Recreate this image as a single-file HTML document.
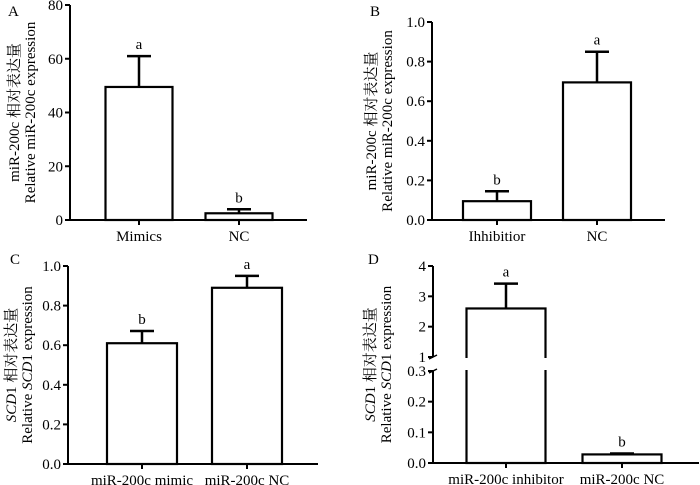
<!DOCTYPE html>
<html><head><meta charset="utf-8"><style>
body{margin:0;background:#fff}
svg{display:block;font-family:"Liberation Serif","Times New Roman","DejaVu Serif","Noto Serif CJK SC",serif}
text{font-family:"Liberation Serif","Times New Roman","DejaVu Serif","Noto Serif CJK SC",serif;fill:#000}
</style></head><body>
<svg id="c" width="700" height="485"></svg>
<script>
const catsA=["Mimics","NC"], valsA=[49.5,2.5], errA=[61,4], sigA=["a","b"], ticksA=[0,20,40,60,80];
const catsB=["Ihhibitior","NC"], valsB=[0.095,0.695], errB=[0.145,0.85], sigB=["b","a"], ticksB=[0,0.2,0.4,0.6,0.8,1.0];
const catsC=["miR-200c mimic","miR-200c NC"], valsC=[0.61,0.89], errC=[0.672,0.95], sigC=["b","a"], ticksC=[0,0.2,0.4,0.6,0.8,1.0];
const catsD=["miR-200c inhibitor","miR-200c NC"], valsD=[2.6,0.028], errD=[3.42,0.031], sigD=["a","b"], ticksDlow=[0,0.1,0.2,0.3], ticksDhigh=[1,2,3,4];
const S="http://www.w3.org/2000/svg", svg=document.getElementById('c');
const FF='"Liberation Serif","Times New Roman","DejaVu Serif","Noto Serif CJK SC",serif';
function el(t,a,txt){const e=document.createElementNS(S,t);for(const k in a)e.setAttribute(k,a[k]);if(t==='text')e.style.fontFamily=FF;if(txt!==undefined)e.textContent=txt;svg.appendChild(e);return e;}
function ln(x1,y1,x2,y2,w){return el('line',{x1,y1,x2,y2,stroke:'#000','stroke-width':w||2});}
function panel(p){
  const y=p.y;
  const ax=ln(p.ax,p.top,p.ax,p.bot);
  
  
  const xa=ln(p.ax,p.bot,p.axEnd,p.bot);
  
  
  p.ticks.forEach(t=>{const yy=y(t);ln(p.ax-5,yy,p.ax,yy);
    const tx=el('text',{x:p.ax-7,y:yy+5,'text-anchor':'end','font-size':15},p.fmt(t));
    
    });
  p.cats.forEach((c,i)=>{
    const cx=p.cx[i],w=p.bw,top=y(p.vals[i]),et=y(p.err[i]);
    ln(cx,p.bot,cx,p.bot+5);
    const r=el('rect',{x:cx-w/2,y:top,width:w,height:p.bot-top,fill:'#fff',stroke:'#000','stroke-width':2.2});
    
    
    ln(cx,top,cx,et,2.5);ln(cx-12,et,cx+12,et,2.5);
    const s=el('text',{x:cx,y:et-7,'text-anchor':'middle','font-size':15},p.sig[i]);
    
    
    const l=el('text',{x:cx,y:p.bot+21,'text-anchor':'middle','font-size':15},c);
    
    
  });
  const pl=el('text',{x:p.lx,y:p.ly,'font-size':15},p.label);
  
  
  const mid=(p.top+p.bot)/2;
  const t1=el('text',{x:0,y:0,'text-anchor':'middle','font-size':15,transform:`translate(${p.yl1},${mid}) rotate(-90)`});
  t1.innerHTML=p.t1;
  
  
  const t2=el('text',{x:0,y:0,'text-anchor':'middle','font-size':15,transform:`translate(${p.yl2},${mid}) rotate(-90)`});
  t2.innerHTML=p.t2;
  
  
}
const f0=t=>String(t), f1=t=>t.toFixed(1);
const lin=(d0,d1,r0,r1)=>v=>r0+(v-d0)/(d1-d0)*(r1-r0);
panel({label:'A',lx:8,ly:16,ax:70,axEnd:307,top:5,bot:220,y:lin(0,80,220,5),ticks:ticksA,fmt:f0,cats:catsA,vals:valsA,err:errA,sig:sigA,cx:[139,239],bw:67,yl1:19,yl2:35,
  t1:'miR-200c 相对表达量',t2:'Relative miR-200c expression'});
panel({label:'B',lx:370,ly:16,ax:432,axEnd:665,top:22,bot:220,y:lin(0,1,220,22),ticks:ticksB,fmt:f1,cats:catsB,vals:valsB,err:errB,sig:sigB,cx:[497,597],bw:68,yl1:376,yl2:392,
  t1:'miR-200c 相对表达量',t2:'Relative miR-200c expression'});
panel({label:'C',lx:10,ly:264,ax:68,axEnd:318,top:266,bot:464,y:lin(0,1,464,266),ticks:ticksC,fmt:f1,cats:catsC,vals:valsC,err:errC,sig:sigC,cx:[142,247],bw:70,yl1:16,yl2:32,
  t1:'<tspan font-style="italic">SCD</tspan>1 相对表达量',t2:'Relative <tspan font-style="italic">SCD</tspan>1 expression'});
(function(){
  const ax=433,end=699,bot=463,lowTop=371,highBot=357,top=266;
  const yLow=lin(0,0.3,463,371), yHigh=lin(1,4,357,266);
  const y=v=>v<=0.3?yLow(v):(v>=1?yHigh(v):highBot);
  let a=ln(ax,lowTop,ax,bot);
  
  
  a=ln(ax,top,ax,highBot);
  
  
  ln(ax-4,highBot+2,ax+4,highBot-2,1.5);ln(ax-4,lowTop+2,ax+4,lowTop-2,1.5);
  a=ln(ax,bot,end,bot);
  
  
  ticksDlow.forEach(t=>{const yy=yLow(t);ln(ax-5,yy,ax,yy);const tx=el('text',{x:ax-7,y:yy+5,'text-anchor':'end','font-size':15},t.toFixed(1));
    
    });
  ticksDhigh.forEach(t=>{const yy=yHigh(t);ln(ax-5,yy,ax,yy);const tx=el('text',{x:ax-7,y:yy+5,'text-anchor':'end','font-size':15},String(t));
    
    });
  const cx=[506,622],bw=79;
  catsD.forEach((c,i)=>{
    const x=cx[i],tp=y(valsD[i]),et=y(errD[i]),l=x-bw/2;
    ln(x,bot,x,bot+5);
    const rc=el('rect',{x:l,y:tp,width:bw,height:bot-tp,fill:'#fff',stroke:'#000','stroke-width':2.2});
    
    
    if(valsD[i]>1){el('rect',{x:l-3,y:highBot+1,width:bw+6,height:lowTop-highBot-2,fill:'#fff'});}
    ln(x,tp,x,et,2.5);ln(x-12,et,x+12,et,2.5);
    const s=el('text',{x:x,y:et-7,'text-anchor':'middle','font-size':15},sigD[i]);
    
    
    const lb=el('text',{x:x,y:bot+21,'text-anchor':'middle','font-size':15},c);
    
    
  });
  const pl=el('text',{x:368,y:264,'font-size':15},'D');
  
  
  const mid=(top+bot)/2;
  const t1=el('text',{x:0,y:0,'text-anchor':'middle','font-size':15,transform:`translate(375,${mid}) rotate(-90)`});
  t1.innerHTML='<tspan font-style="italic">SCD</tspan>1 相对表达量';
  
  
  const t2=el('text',{x:0,y:0,'text-anchor':'middle','font-size':15,transform:`translate(391,${mid}) rotate(-90)`});
  t2.innerHTML='Relative <tspan font-style="italic">SCD</tspan>1 expression';
  
  
})();
</script>
</body></html>
